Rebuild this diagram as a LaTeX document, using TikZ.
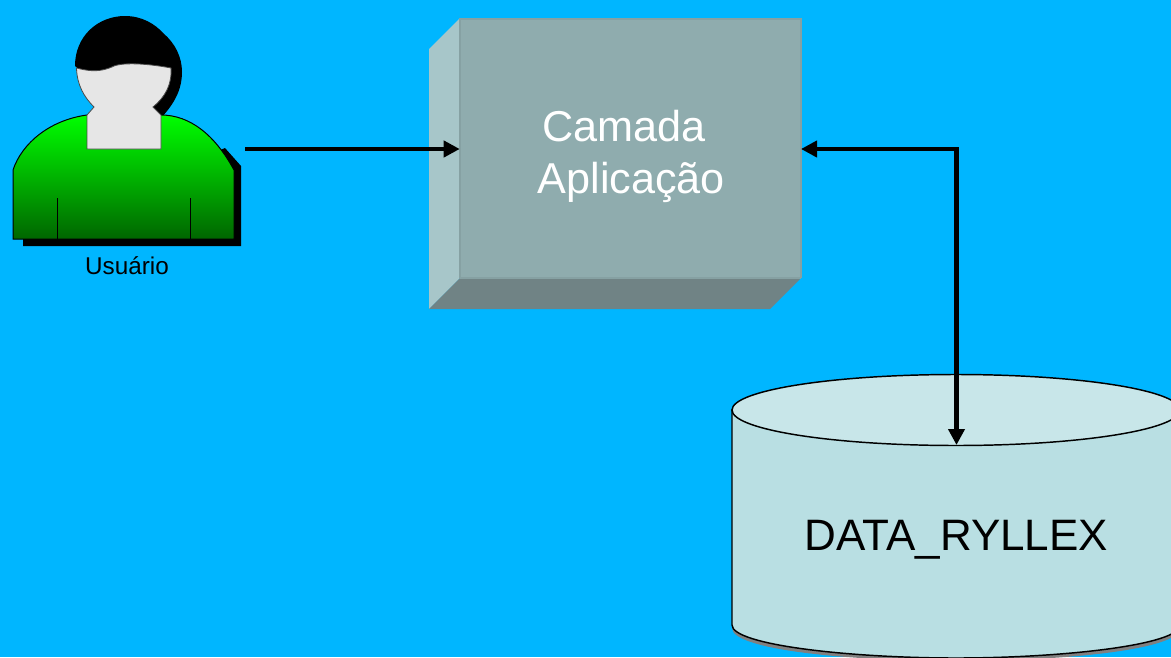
\documentclass[tikz,border=0pt]{standalone}
\usepackage{fontspec}
\setmainfont{Liberation Sans}
\usetikzlibrary{arrows.meta}
\definecolor{bgblue}{HTML}{00B6FF}
\definecolor{boxfront}{HTML}{8FACAE}
\definecolor{boxleft}{HTML}{A7C6C9}
\definecolor{boxbottom}{HTML}{708385}
\definecolor{boxedge}{HTML}{86A1A3}
\definecolor{dbside}{HTML}{B9DFE3}
\definecolor{dbtop}{HTML}{C8E6E9}
\definecolor{face}{HTML}{E6E6E6}
\tikzset{
  conn/.style={line width=3.4pt,draw=black,{Triangle[length=12pt,width=12pt]}-{Triangle[length=12pt,width=12pt]}},
  connone/.style={line width=3.4pt,draw=black,-{Triangle[length=12pt,width=12pt]}},
  outline/.style={draw=black,line width=0.75pt},
}
\begin{document}
\begin{tikzpicture}[x=0.75pt,y=-0.75pt]
\useasboundingbox (0,0) rectangle (1171,657);
\clip (0,0) rectangle (1171,657);
\fill[bgblue] (0,0) rectangle (1171,657);

% person: shadow, hair, body, face
\fill[black] (225,148) -- (241,166) -- (241,246) -- (23,246) -- (23,236) -- cycle;
\fill[black] (75,66) .. controls (75,36) and (98,16) .. (125,16)
  .. controls (142,16) and (155,24) .. (163,33)
  .. controls (175,43) and (182,57) .. (182,72)
  .. controls (182,90) and (174,104) .. (161,118) -- (120,118) -- (80,70) -- cycle;
\shade[top color=green,bottom color=green!40!black]
  (13,170) .. controls (22,143) and (50,120) .. (87,115) -- (161,115)
  .. controls (190,115) and (215,135) .. (234,170) -- (234,239) -- (13,239) -- cycle;
\draw[outline] (13,170) .. controls (22,143) and (50,120) .. (87,115) -- (161,115)
  .. controls (190,115) and (215,135) .. (234,170) -- (234,239) -- (13,239) -- cycle;
\draw[black,line width=0.6pt] (57,198) -- (57,239) (190.5,198) -- (190.5,239);
\filldraw[fill=face,draw=black!70,line width=0.6pt]
  (76.5,68) .. controls (88,71) and (100,73) .. (114,66)
  .. controls (125,62) and (150,64) .. (171,68)
  .. controls (172,85) and (165,97) .. (153,107)
  -- (161,115) -- (161,149) -- (87,149) -- (87,115) -- (94,107)
  .. controls (84,97) and (77,85) .. (76.5,68) -- cycle;

\node[inner sep=0pt,font=\fontsize{18.2}{20}\selectfont,text=black] (userlabel) at (127,266) {Usuário};
\coordinate (userport) at (245,149);

% application block
\fill[boxleft] (429,49) -- (460,18) -- (460,278) -- (429,309) -- cycle;
\fill[boxbottom] (429,309) -- (460,278) -- (801,278) -- (770,309) -- cycle;
\node[minimum width=255.75pt,minimum height=195pt,inner sep=0pt,fill=boxfront] (app) at (630.5,148) {};
\node[inner sep=0pt,align=center,text=white,font=\fontsize{32.4}{39}\selectfont] (apptext) at (627,156)
      {\mbox{Camada\hspace{4.5pt}}\\\hspace{6.5pt}Aplicação};
\draw[boxedge,line width=1.2pt] (460,19) -- (801,19) (801,18) -- (801,278) (460,278) -- (801,278) (460,18) -- (460,278);

% database
\fill[gray] (732,412) -- (732,628) .. controls (732,650) and (850,661) .. (956,661)
   .. controls (1062,661) and (1180,650) .. (1180,628) -- (1180,412) -- cycle;
\filldraw[fill=dbside,draw=black,line width=1.1pt]
   (732,410) -- (732,625) .. controls (732,645) and (850,658) .. (956,658)
   .. controls (1062,658) and (1180,645) .. (1180,625) -- (1180,410) -- cycle;
\filldraw[fill=dbtop,draw=black,line width=1.1pt] (956,410) ellipse [x radius=224,y radius=35.5];
\node[inner sep=0pt,font=\fontsize{33}{39}\selectfont,text=black] (db) at (956.5,540) {DATA\_RYLLEX};
\coordinate (dbport) at (956.5,445);
\coordinate (appport) at (801,149);

% connectors
\draw[connone] (userport) -- (app.west |- userport);
\draw[conn] (appport) -- (dbport |- appport) -- (dbport);
\end{tikzpicture}
\end{document}
